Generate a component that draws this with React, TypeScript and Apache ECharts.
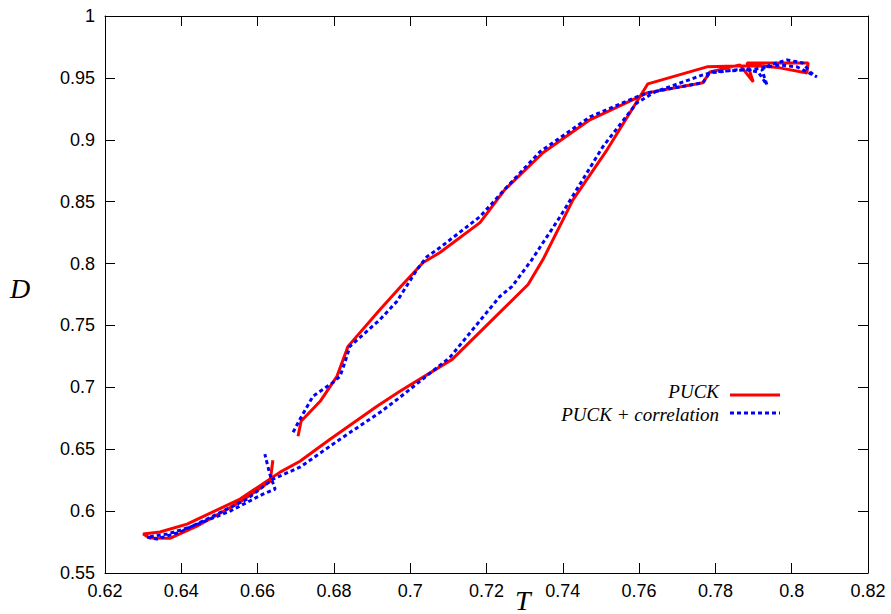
import React, { useEffect, useRef } from "react";
import * as echarts from "echarts";

const xTicks = { min: 0.62, max: 0.82, interval: 0.02 };
const yTicks = { min: 0.55, max: 1, interval: 0.05 };

const seriesNames = ["PUCK", "PUCK + correlation"];

const puckT = [
  0.6706, 0.6714, 0.6764, 0.6808, 0.6837, 0.6921, 0.6973, 0.7034, 0.7078, 0.7183,
  0.7248, 0.7348, 0.7471, 0.7594, 0.7621, 0.7767, 0.7786, 0.7864, 0.7899, 0.7883,
  0.7969, 0.8043, 0.804, 0.7969, 0.7917, 0.7857, 0.7778, 0.7623, 0.7516, 0.7427,
  0.7348, 0.7309, 0.711, 0.6973, 0.6913, 0.679, 0.6711, 0.6659, 0.6554, 0.6415,
  0.6344, 0.63, 0.6318, 0.637, 0.6441, 0.6554, 0.6633, 0.664,
];
const puckD = [
  0.6605, 0.6726, 0.6887, 0.7089, 0.7331, 0.7629, 0.7806, 0.8008, 0.8089, 0.8331,
  0.8597, 0.8895, 0.9161, 0.9339, 0.9379, 0.946, 0.9548, 0.9605, 0.9468, 0.9621,
  0.9621, 0.9621, 0.954, 0.9581, 0.9597, 0.9597, 0.9589, 0.9452, 0.8919, 0.8516,
  0.8032, 0.7831, 0.7226, 0.6968, 0.6847, 0.6581, 0.6403, 0.6315, 0.6097, 0.5895,
  0.5831, 0.5815, 0.5782, 0.578, 0.5879, 0.6073, 0.6242, 0.6411,
];

const corrT = [
  0.6693, 0.6711, 0.6745, 0.6798, 0.6816, 0.6829, 0.6842, 0.6921, 0.6965, 0.7018,
  0.7044, 0.7078, 0.7183, 0.7254, 0.734, 0.7471, 0.7594, 0.7621, 0.7767, 0.7786,
  0.7883, 0.7912, 0.7935, 0.7922, 0.7943, 0.7988, 0.8029, 0.8048, 0.8066, 0.8014,
  0.7969, 0.7891, 0.7857, 0.7786, 0.7767, 0.7642, 0.7594, 0.7505, 0.7393, 0.7319,
  0.7267, 0.7235, 0.7104, 0.6973, 0.6921, 0.6816, 0.6711, 0.664, 0.6572, 0.6483,
  0.6397, 0.6336, 0.631, 0.6363, 0.6423, 0.6528, 0.6614, 0.6646, 0.6632, 0.6619,
];
const corrD = [
  0.6637, 0.6742, 0.6927, 0.704, 0.7089, 0.7202, 0.7331, 0.7548, 0.7694, 0.7952,
  0.8056, 0.8129, 0.8379, 0.8621, 0.8903, 0.9185, 0.9347, 0.9379, 0.946, 0.9548,
  0.9565, 0.9548, 0.9444, 0.9565, 0.9605, 0.9645, 0.9621, 0.9548, 0.9508, 0.9589,
  0.9605, 0.9565, 0.9565, 0.954, 0.9524, 0.9387, 0.9298, 0.8944, 0.8379, 0.8032,
  0.7815, 0.7734, 0.7242, 0.6919, 0.6798, 0.6581, 0.6355, 0.6258, 0.6097, 0.596,
  0.5831, 0.5774, 0.579, 0.5815, 0.5871, 0.6, 0.6137, 0.6177, 0.6298, 0.646,
];

const zip = (a: number[], b: number[]) => a.map((v, i) => [v, b[i]]);

const labelFont = "'Liberation Sans', Arial, sans-serif";
const serifFont = "'Liberation Serif', 'Times New Roman', serif";

export default function App() {
  const ref = useRef<HTMLDivElement>(null);
  useEffect(() => {
    if (!ref.current) return;
    const chart = echarts.init(ref.current, undefined, { renderer: "svg" });
    const axisLine = { show: true, lineStyle: { color: "#000", width: 1 } };
    const tick = { show: true, inside: true, length: 10, lineStyle: { color: "#000" } };
    const gridLeft = 105, gridTop = 16, gridW = 763, gridH = 557;
    chart.setOption({
      animation: false,
      backgroundColor: "#fff",
      grid: { left: gridLeft, top: gridTop, width: gridW, height: gridH },
      xAxis: [
        {
          type: "value", ...xTicks, axisLine, axisTick: tick, splitLine: { show: false },
          axisLabel: { color: "#000", fontSize: 18, fontFamily: labelFont, margin: 9 },
        },
        {
          type: "value", position: "top", ...xTicks, axisLine, axisTick: tick,
          splitLine: { show: false }, axisLabel: { show: false },
        },
      ],
      yAxis: [
        {
          type: "value", ...yTicks, axisLine, axisTick: tick, splitLine: { show: false },
          axisLabel: { color: "#000", fontSize: 18, fontFamily: labelFont, margin: 10 },
        },
        {
          type: "value", position: "right", ...yTicks, axisLine, axisTick: tick,
          splitLine: { show: false }, axisLabel: { show: false },
        },
      ],
      series: [
        {
          name: seriesNames[0], type: "line", data: zip(puckT, puckD), showSymbol: false,
          symbol: "none", lineStyle: { color: "#ff0000", width: 3 }, z: 2,
        },
        {
          name: seriesNames[1], type: "line", data: zip(corrT, corrD), showSymbol: false,
          symbol: "none", lineStyle: { color: "#0000ff", width: 3, type: [4, 3] }, z: 3,
        },
      ],
      graphic: [
        { type: "text", left: 10, top: 274, style: { text: "D", font: `italic 28px ${serifFont}`, fill: "#000" } },
        { type: "text", left: 515, top: 586, style: { text: "T", font: `italic 28px ${serifFont}`, fill: "#000" } },
        { type: "text", x: 719, y: 391, style: { text: seriesNames[0], font: `italic 19px ${serifFont}`, fill: "#000", align: "right", verticalAlign: "middle" } },
        { type: "text", x: 719, y: 414, style: { text: seriesNames[1], font: `italic 19px ${serifFont}`, fill: "#000", align: "right", verticalAlign: "middle" } },
        { type: "line", shape: { x1: 730, y1: 395, x2: 780, y2: 395 }, style: { stroke: "#ff0000", lineWidth: 3 } },
        { type: "line", shape: { x1: 730, y1: 413, x2: 780, y2: 413 }, style: { stroke: "#0000ff", lineWidth: 3, lineDash: [4, 3] } },
      ],
    });
    return () => chart.dispose();
  }, []);
  return <div ref={ref} style={{ width: 891, height: 614, position: "absolute", left: 0, top: 0 }} />;
}
